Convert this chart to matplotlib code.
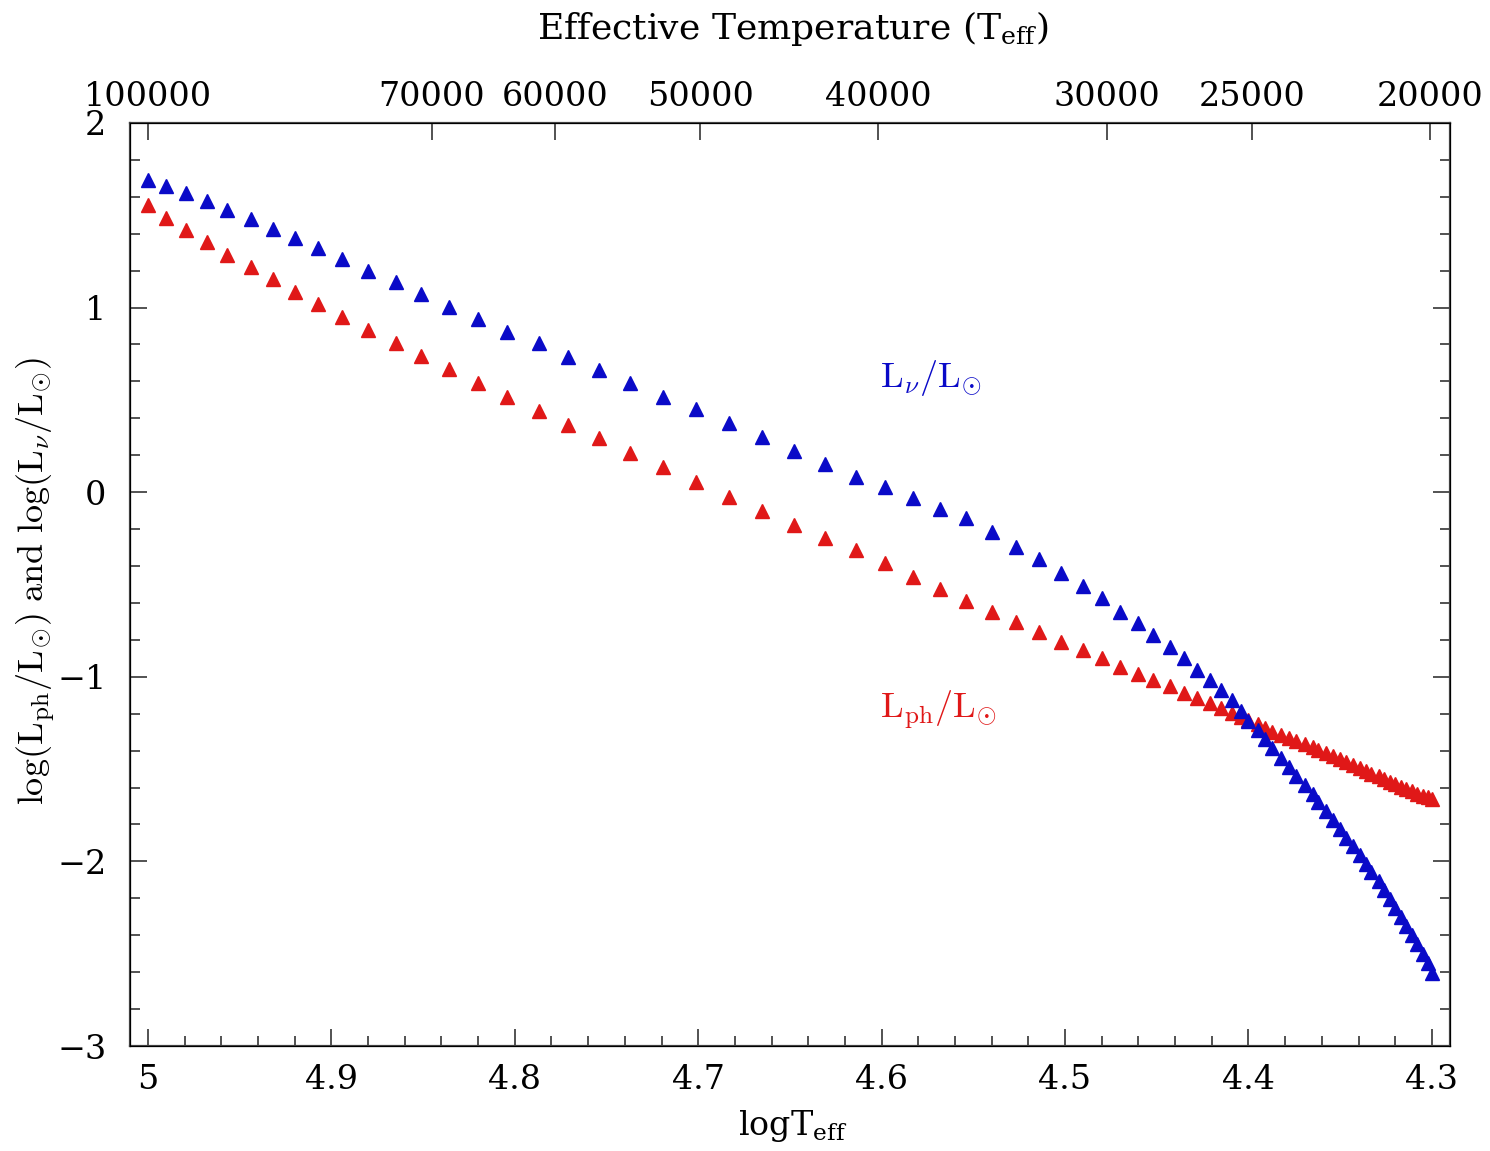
import numpy as np
import matplotlib
matplotlib.use("Agg")
import matplotlib.pyplot as plt
from matplotlib.ticker import MultipleLocator

# log Teff of each model (shared by both series)
log_teff = [5.000, 4.990, 4.979, 4.968, 4.957, 4.944, 4.932, 4.920, 4.907, 4.894,
            4.880, 4.865, 4.851, 4.836, 4.820, 4.804, 4.787, 4.771, 4.754, 4.737,
            4.719, 4.701, 4.683, 4.665, 4.648, 4.631, 4.614, 4.598, 4.583, 4.568,
            4.554, 4.540, 4.527, 4.514, 4.502, 4.490, 4.480, 4.470, 4.460, 4.452,
            4.443, 4.435, 4.428, 4.421, 4.415, 4.409, 4.404,
            4.400, 4.395, 4.391, 4.387, 4.382, 4.378, 4.374, 4.369, 4.365, 4.362,
            4.358, 4.354, 4.350, 4.347, 4.343, 4.339, 4.336, 4.333, 4.329, 4.326,
            4.323, 4.320, 4.317, 4.314, 4.311, 4.308, 4.305, 4.302, 4.300]

# log(L_nu / Lsun)
log_lnu = [1.691, 1.659, 1.619, 1.577, 1.529, 1.480, 1.427, 1.375, 1.321, 1.262,
           1.200, 1.137, 1.072, 1.005, 0.938, 0.869, 0.807, 0.734, 0.662, 0.593,
           0.517, 0.449, 0.373, 0.301, 0.225, 0.153, 0.084, 0.027, -0.034, -0.091,
           -0.141, -0.217, -0.295, -0.363, -0.439, -0.508, -0.575, -0.647, -0.707, -0.774,
           -0.840, -0.900, -0.963, -1.017, -1.072, -1.126, -1.184,
           -1.237, -1.287, -1.337, -1.387, -1.438, -1.488, -1.537, -1.585, -1.633, -1.678,
           -1.727, -1.776, -1.825, -1.871, -1.917, -1.965, -2.014, -2.060, -2.106, -2.155,
           -2.204, -2.255, -2.301, -2.350, -2.399, -2.450, -2.499, -2.548, -2.602]

# log(L_ph / Lsun)
log_lph = [1.556, 1.487, 1.420, 1.354, 1.285, 1.222, 1.153, 1.086, 1.019, 0.951,
           0.879, 0.810, 0.738, 0.666, 0.590, 0.517, 0.440, 0.364, 0.292, 0.211,
           0.135, 0.057, -0.024, -0.100, -0.178, -0.250, -0.313, -0.386, -0.461, -0.526,
           -0.588, -0.647, -0.702, -0.756, -0.810, -0.855, -0.900, -0.945, -0.985, -1.017,
           -1.048, -1.086, -1.116, -1.144, -1.171, -1.194, -1.216,
           -1.235, -1.256, -1.276, -1.297, -1.315, -1.333, -1.350, -1.366, -1.382, -1.398,
           -1.414, -1.431, -1.448, -1.464, -1.479, -1.495, -1.510, -1.525, -1.540, -1.554,
           -1.568, -1.582, -1.595, -1.608, -1.620, -1.633, -1.644, -1.653, -1.662]

top_temps = [100000, 70000, 60000, 50000, 40000, 30000, 25000, 20000]

plt.rcParams['font.family'] = 'DejaVu Serif'
plt.rcParams['mathtext.fontset'] = 'dejavuserif'

blue = '#0a0ac8'
red = '#e01818'
spine_col = '#444444'

fig = plt.figure(figsize=(14.9, 11.51), dpi=100)
ax = fig.add_axes([0.0872, 0.0912, 0.886, 0.802])

ax.plot(log_teff, log_lph, linestyle='none', marker='^', ms=9.5, color=red, mec=red)
ax.plot(log_teff, log_lnu, linestyle='none', marker='^', ms=9.5, color=blue, mec=blue)

ax.set_xlim(5.0098, 4.2901)
ax.set_ylim(-3, 2)

ax.xaxis.set_minor_locator(MultipleLocator(0.02))
ax.yaxis.set_minor_locator(MultipleLocator(0.2))
ax.set_xticks([5.0, 4.9, 4.8, 4.7, 4.6, 4.5, 4.4, 4.3])
ax.set_xticklabels(['5', '4.9', '4.8', '4.7', '4.6', '4.5', '4.4', '4.3'])
ax.set_yticks([2, 1, 0, -1, -2, -3])
ax.set_yticklabels(['2', '1', '0', '\u22121', '\u22122', '\u22123'])

ax.tick_params(which='both', direction='in', top=False, right=True,
               color=spine_col, width=1.3, labelsize=24)
ax.tick_params(which='major', length=12)
ax.tick_params(which='minor', length=7)
ax.tick_params(axis='x', which='major', pad=13)
ax.tick_params(axis='y', which='major', pad=17)
for sp in ax.spines.values():
    sp.set_color(spine_col)
    sp.set_linewidth(1.6)

# top axis in Teff
ax2 = ax.twiny()
ax2.set_xlim(ax.get_xlim())
ax2.set_xticks(np.log10(top_temps))
ax2.set_xticklabels([str(t) for t in top_temps])
ax2.xaxis.set_minor_locator(plt.NullLocator())
ax2.tick_params(direction='in', length=12, width=1.3, color=spine_col,
                labelsize=24, pad=7)

ax.text(4.601, 0.62, r'$\mathrm{L_{\nu}/L_{\odot}}$', color=blue, fontsize=26,
        ha='left', va='center', math_fontfamily='cm')
ax.text(4.601, -1.18, r'$\mathrm{L_{ph}/L_{\odot}}$', color=red, fontsize=26,
        ha='left', va='center', math_fontfamily='cm')

fig.text(0.532, 0.975, r'Effective Temperature (T$_{\rm eff}$)', fontsize=26,
         ha='center', va='center')
fig.text(0.532, 0.022, r'logT$_{\rm eff}$', fontsize=24, ha='center', va='center')
fig.text(0.024, 0.495,
         r'$\mathrm{log(L_{ph}/L_{\odot})\ and\ log(L_{\nu}/L_{\odot})}$',
         fontsize=26, rotation=90, ha='center', va='center', math_fontfamily='cm')

fig.savefig('out.png', dpi=100)
